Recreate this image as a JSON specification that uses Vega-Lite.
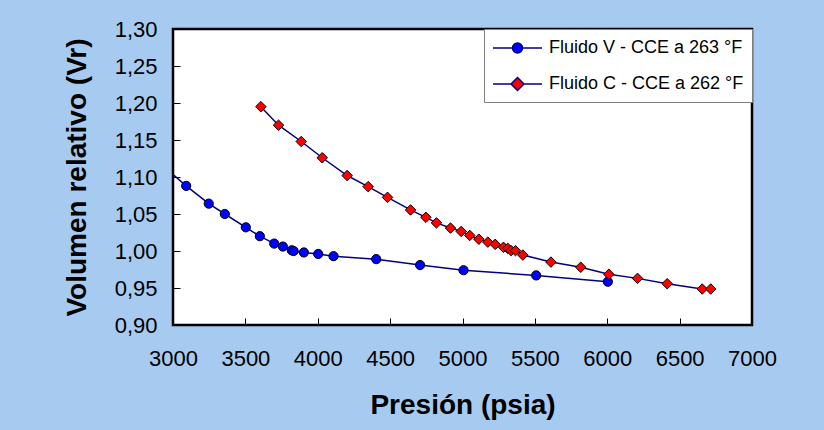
{
  "$schema": "https://vega.github.io/schema/vega-lite/v6.json",
  "autosize": {"type": "none"},
  "width": 579,
  "height": 296,
  "padding": {"left": 173, "top": 29, "right": 72, "bottom": 105},
  "background": "#A6CAF0",
  "config": {
    "font": "Liberation Sans",
    "view": {"fill": "#FFFFFF", "stroke": "#000000", "strokeWidth": 2.5},
    "axis": {"grid": false, "domain": false, "tickColor": "#000000", "tickWidth": 1, "tickSize": -7, "labelColor": "#000000", "titleColor": "#000000", "labelFont": "Liberation Sans", "titleFont": "Liberation Sans", "zindex": 1, "labelOverlap": false, "labelFlush": false}
  },
  "data": {"values": [
    {"serie": "Fluido V - CCE a 263 °F", "P": 2900, "V": 1.120},
    {"serie": "Fluido V - CCE a 263 °F", "P": 3091, "V": 1.088},
    {"serie": "Fluido V - CCE a 263 °F", "P": 3247, "V": 1.064},
    {"serie": "Fluido V - CCE a 263 °F", "P": 3358, "V": 1.050},
    {"serie": "Fluido V - CCE a 263 °F", "P": 3503, "V": 1.032},
    {"serie": "Fluido V - CCE a 263 °F", "P": 3600, "V": 1.020},
    {"serie": "Fluido V - CCE a 263 °F", "P": 3699, "V": 1.010},
    {"serie": "Fluido V - CCE a 263 °F", "P": 3759, "V": 1.006},
    {"serie": "Fluido V - CCE a 263 °F", "P": 3820, "V": 1.001},
    {"serie": "Fluido V - CCE a 263 °F", "P": 3833, "V": 1.000},
    {"serie": "Fluido V - CCE a 263 °F", "P": 3904, "V": 0.998},
    {"serie": "Fluido V - CCE a 263 °F", "P": 4003, "V": 0.996},
    {"serie": "Fluido V - CCE a 263 °F", "P": 4109, "V": 0.993},
    {"serie": "Fluido V - CCE a 263 °F", "P": 4404, "V": 0.989},
    {"serie": "Fluido V - CCE a 263 °F", "P": 4707, "V": 0.981},
    {"serie": "Fluido V - CCE a 263 °F", "P": 5007, "V": 0.974},
    {"serie": "Fluido V - CCE a 263 °F", "P": 5509, "V": 0.967},
    {"serie": "Fluido V - CCE a 263 °F", "P": 6004, "V": 0.9585},
    {"serie": "Fluido C - CCE a 262 °F", "P": 3607, "V": 1.195},
    {"serie": "Fluido C - CCE a 262 °F", "P": 3729, "V": 1.170},
    {"serie": "Fluido C - CCE a 262 °F", "P": 3886, "V": 1.148},
    {"serie": "Fluido C - CCE a 262 °F", "P": 4031, "V": 1.126},
    {"serie": "Fluido C - CCE a 262 °F", "P": 4203, "V": 1.102},
    {"serie": "Fluido C - CCE a 262 °F", "P": 4348, "V": 1.087},
    {"serie": "Fluido C - CCE a 262 °F", "P": 4482, "V": 1.0725},
    {"serie": "Fluido C - CCE a 262 °F", "P": 4641, "V": 1.0555},
    {"serie": "Fluido C - CCE a 262 °F", "P": 4747, "V": 1.0455},
    {"serie": "Fluido C - CCE a 262 °F", "P": 4820, "V": 1.038},
    {"serie": "Fluido C - CCE a 262 °F", "P": 4917, "V": 1.031},
    {"serie": "Fluido C - CCE a 262 °F", "P": 4991, "V": 1.0265},
    {"serie": "Fluido C - CCE a 262 °F", "P": 5050, "V": 1.021},
    {"serie": "Fluido C - CCE a 262 °F", "P": 5113, "V": 1.016},
    {"serie": "Fluido C - CCE a 262 °F", "P": 5175, "V": 1.012},
    {"serie": "Fluido C - CCE a 262 °F", "P": 5226, "V": 1.009},
    {"serie": "Fluido C - CCE a 262 °F", "P": 5283, "V": 1.005},
    {"serie": "Fluido C - CCE a 262 °F", "P": 5313, "V": 1.0035},
    {"serie": "Fluido C - CCE a 262 °F", "P": 5336, "V": 1.0005},
    {"serie": "Fluido C - CCE a 262 °F", "P": 5366, "V": 1.0005},
    {"serie": "Fluido C - CCE a 262 °F", "P": 5417, "V": 0.9945},
    {"serie": "Fluido C - CCE a 262 °F", "P": 5611, "V": 0.985},
    {"serie": "Fluido C - CCE a 262 °F", "P": 5817, "V": 0.978},
    {"serie": "Fluido C - CCE a 262 °F", "P": 6011, "V": 0.9685},
    {"serie": "Fluido C - CCE a 262 °F", "P": 6209, "V": 0.963},
    {"serie": "Fluido C - CCE a 262 °F", "P": 6414, "V": 0.9558},
    {"serie": "Fluido C - CCE a 262 °F", "P": 6656, "V": 0.9486},
    {"serie": "Fluido C - CCE a 262 °F", "P": 6715, "V": 0.9486}
  ]},
  "encoding": {
    "x": {"field": "P", "type": "quantitative",
      "scale": {"domain": [3000, 7000], "nice": false, "zero": false},
      "axis": {"values": [3000, 3500, 4000, 4500, 5000, 5500, 6000, 6500, 7000], "format": "d", "title": "Presión (psia)", "labelFontSize": 22, "labelPadding": 30, "titleFontSize": 28, "titleFontWeight": "bold", "titlePadding": 22}},
    "y": {"field": "V", "type": "quantitative",
      "scale": {"domain": [0.9, 1.3], "nice": false, "zero": false},
      "axis": {"values": [0.9, 0.95, 1.0, 1.05, 1.1, 1.15, 1.2, 1.25, 1.3], "labelExpr": "replace(format(datum.value, '.2f'), '.', ',')", "title": "Volumen relativo (Vr)", "labelFontSize": 22, "labelPadding": 23, "titleFontSize": 28, "titleFontWeight": "bold", "titlePadding": 23}}
  },
  "layer": [
    {
      "mark": {"type": "line", "stroke": "#000080", "strokeWidth": 1.5, "clip": true},
      "encoding": {"detail": {"field": "serie"}, "order": {"field": "P"}}
    },
    {
      "mark": {"type": "point", "filled": true, "stroke": "#000000", "strokeWidth": 1, "opacity": 1, "clip": true},
      "encoding": {
        "size": {"condition": {"test": "datum.serie === 'Fluido C - CCE a 262 °F'", "value": 110}, "value": 85},
        "shape": {"condition": {"test": "datum.serie === 'Fluido C - CCE a 262 °F'", "value": "diamond"}, "value": "circle"},
        "fill": {"condition": {"test": "datum.serie === 'Fluido C - CCE a 262 °F'", "value": "#FF0000"}, "value": "#0000FF"}
      }
    },
    {
      "transform": [{"filter": "datum.P < 0"}],
      "mark": {"type": "point", "filled": true, "stroke": "#000080", "strokeWidth": 1.5, "opacity": 1},
      "encoding": {
        "fill": {"field": "serie", "type": "nominal",
          "scale": {"domain": ["Fluido V - CCE a 263 °F", "Fluido C - CCE a 262 °F"], "range": ["#0000FF", "#FF0000"]},
          "legend": {
            "title": null, "orient": "top-right", "offset": 0,
            "fillColor": "#FFFFFF", "strokeColor": "#808080", "padding": 8,
            "labelFontSize": 18, "labelFont": "Liberation Sans", "labelColor": "#000000", "labelOffset": 35, "labelLimit": 300,
            "symbolSize": 400, "symbolStrokeColor": "#000080", "symbolStrokeWidth": 1.5, "rowPadding": 16
          }},
        "shape": {"field": "serie", "type": "nominal",
          "scale": {"domain": ["Fluido V - CCE a 263 °F", "Fluido C - CCE a 262 °F"], "range": ["M-1,0H0.95 M1.95,0H3.9 M1.95,0A0.5,0.5 0 1,1 0.95,0A0.5,0.5 0 1,1 1.95,0Z", "M-1,0H0.8 M2.1,0H3.9 M1.45,-0.65L2.1,0L1.45,0.65L0.8,0Z"]}}
      }
    }
  ]
}
